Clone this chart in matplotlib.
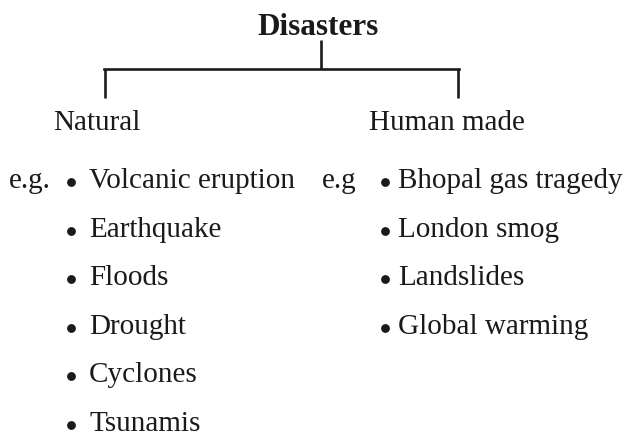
import matplotlib.pyplot as plt

# Data
title = "Disasters"
groups = ["Natural", "Human made"]
natural = ["Volcanic eruption", "Earthquake", "Floods", "Drought", "Cyclones", "Tsunamis"]
human_made = ["Bhopal gas tragedy", "London smog", "Landslides", "Global warming"]
eg_labels = ["e.g.", "e.g"]

plt.rcParams['font.family'] = ['Liberation Serif', 'DejaVu Serif']

fig = plt.figure(figsize=(6.31, 4.38), dpi=100)
ax = fig.add_axes([0, 0, 1, 1])
ax.set_xlim(0, 631)
ax.set_ylim(438, 0)
ax.axis('off')

fs = 21
lw = 1.9
c = '#1a1a1a'

# Title and tree lines
ax.text(318, 35, title, ha='center', va='baseline', fontsize=22.5, fontweight='bold', color=c)
ax.plot([321, 321], [40, 69], color=c, lw=lw, solid_capstyle='butt')
ax.plot([104, 459], [69, 69], color=c, lw=lw, solid_capstyle='projecting')
ax.plot([105, 105], [69, 98], color=c, lw=lw, solid_capstyle='butt')
ax.plot([458, 458], [69, 98], color=c, lw=lw, solid_capstyle='butt')

# Group headings
ax.text(53, 130, groups[0], ha='left', va='baseline', fontsize=fs, color=c)
ax.text(369, 130, groups[1], ha='left', va='baseline', fontsize=fs, color=c)

# Lists
row0, step = 188, 48.6
columns = [(natural, 9, 71, 89), (human_made, 322, 385, 398)]
for (items, eg_x, dot_x, txt_x), eg in zip(columns, eg_labels):
    ax.text(eg_x, row0, eg, ha='left', va='baseline', fontsize=fs, color=c)
    for i, item in enumerate(items):
        y = row0 + i * step
        ax.plot(dot_x, y - 6, 'o', color=c, markersize=5.3)
        ax.text(txt_x, y, item, ha='left', va='baseline', fontsize=fs, color=c)

fig.savefig('out.png', dpi=100)
